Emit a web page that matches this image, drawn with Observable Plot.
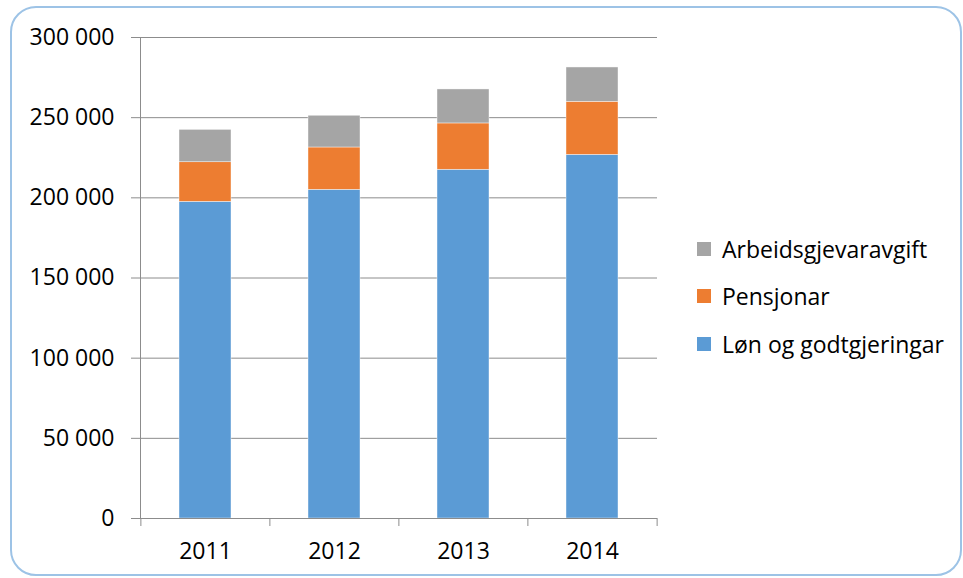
<!DOCTYPE html>
<html>
<head>
<meta charset="utf-8">
<script src="https://cdn.jsdelivr.net/npm/d3@7"></script>
<script src="https://cdn.jsdelivr.net/npm/@observablehq/plot@0.6"></script>
<style>
  html, body { margin: 0; padding: 0; background: #fff; }
  #wrap { position: relative; width: 963px; height: 578px; overflow: hidden; font-family: "Open Sans", sans-serif; }
  #chart { position: absolute; left: 0; top: 0; }
  #frame { position: absolute; left: 10px; top: 6px; width: 948px; height: 566px; border: 2px solid #9dc3e6; border-radius: 26px; pointer-events: none; }
  #legend { position: absolute; left: 697px; top: 225px; }
  .item { display: flex; align-items: center; height: 47.5px; font-size: 23px; color: #000; }
  .sw { width: 14px; height: 14px; margin-right: 11px; }
</style>
</head>
<body>
<div id="wrap">
  <div id="chart"></div>
  <div id="frame"></div>
  <div id="legend"></div>
</div>
<script>
const years = ["2011", "2012", "2013", "2014"];
const seriesNames = ["Løn og godtgjeringar", "Pensjonar", "Arbeidsgjevaravgift"];
const lon = [197500, 205000, 217500, 226800];
const pensjonar = [24700, 26400, 28900, 33100];
const avgift = [20200, 19800, 21200, 21400];
const yTicks = [0, 50000, 100000, 150000, 200000, 250000, 300000];
const colors = ["#5b9bd5", "#ed7d31", "#a5a5a5"];

const seriesValues = [lon, pensjonar, avgift];
const data = [];
seriesNames.forEach((s, i) => years.forEach((y, j) => data.push({year: y, series: s, value: seriesValues[i][j]})));

const W = 963, H = 578, ML = 140, MR = 306, MT = 37, MB = 60;
const step = (W - ML - MR) / years.length;
const tickLen = 8 * 300000 / (H - MT - MB);
const fmt = d3.formatLocale({thousands: "\u00a0", grouping: [3], decimal: ","}).format(",");

const chart = Plot.plot({
  width: W, height: H,
  marginLeft: ML, marginRight: MR, marginTop: MT, marginBottom: MB,
  style: {fontFamily: "Open Sans, sans-serif", fontSize: "23px", color: "#000", background: "transparent"},
  x: {domain: years, paddingInner: 0.6, paddingOuter: 0.3, label: null},
  y: {domain: [0, 300000], label: null},
  color: {domain: seriesNames, range: colors},
  marks: [
    Plot.gridY(yTicks, {stroke: "#8c8c8c", strokeOpacity: 1}),
    Plot.barY(data, {x: "year", y: "value", fill: "series", order: seriesNames, stroke: "#ffffff", strokeWidth: 0.6, strokeOpacity: 0.7}),
    Plot.ruleY([0], {stroke: "#8c8c8c"}),
    Plot.frame({anchor: "left", stroke: "#8c8c8c"}),
    Plot.axisY(yTicks, {tickSize: 9, tickPadding: 17, tickFormat: fmt, fontSize: 23, stroke: "#8c8c8c", fill: "#000"}),
    Plot.axisX({tickSize: 0, tickPadding: 24, fontSize: 23, fill: "#000"}),
    Plot.ruleX(years, {x: d => d, dx: -step / 2, y1: 0, y2: -tickLen, stroke: "#8c8c8c"}),
    Plot.ruleX(years.slice(-1), {x: d => d, dx: step / 2, y1: 0, y2: -tickLen, stroke: "#8c8c8c"})
  ]
});
document.getElementById("chart").appendChild(chart);

const legend = document.getElementById("legend");
[2, 1, 0].forEach(i => {
  const it = document.createElement("div");
  it.className = "item";
  const sw = document.createElement("span");
  sw.className = "sw";
  sw.style.background = colors[i];
  const tx = document.createElement("span");
  tx.textContent = seriesNames[i];
  it.appendChild(sw); it.appendChild(tx);
  legend.appendChild(it);
});
</script>
</body>
</html>
